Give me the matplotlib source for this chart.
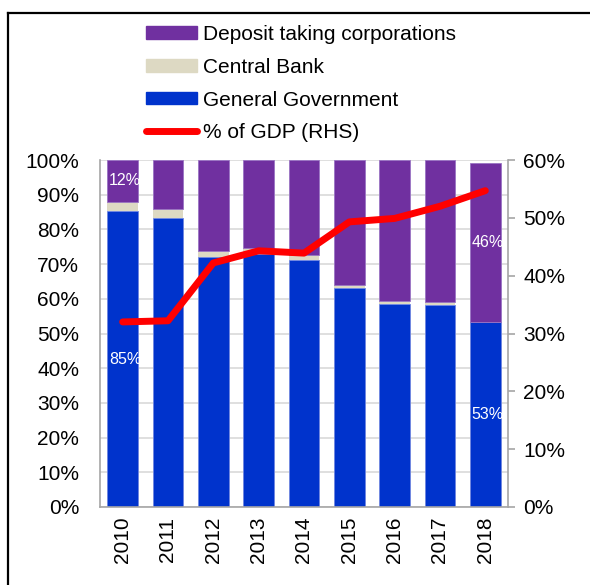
import numpy as np
import matplotlib
matplotlib.use("Agg")
import matplotlib.pyplot as plt
from matplotlib.patches import Patch
from matplotlib.lines import Line2D
from matplotlib.ticker import PercentFormatter

years = ["2010", "2011", "2012", "2013", "2014", "2015", "2016", "2017", "2018"]
general_gov = [85.3, 83.4, 72.0, 73.0, 71.3, 63.0, 58.4, 58.2, 53.2]
central_bank = [2.7, 2.4, 1.9, 1.5, 1.3, 1.0, 1.0, 0.9, 0.1]
deposit_corp = [12.0, 14.2, 26.1, 25.5, 27.4, 36.0, 40.6, 40.9, 45.9]
gdp_share = [32.0, 32.2, 42.2, 44.3, 43.9, 49.3, 49.9, 52.0, 54.7]

c_dep = "#7030A0"
c_cb = "#DDD9C3"
c_gg = "#0033CC"
c_line = "#FF0000"
grid_c = "#D9D9D9"
spine_c = "#A6A6A6"
fs = 15

plt.rcParams["font.family"] = ["Liberation Sans", "DejaVu Sans"]

fig = plt.figure(figsize=(5.9, 5.85), dpi=100)
ax = fig.add_axes([100 / 590, 1 - 507 / 585, 408 / 590, 347 / 585])

x = np.arange(len(years))
gg = np.array(general_gov)
cb = np.array(central_bank)
dep = np.array(deposit_corp)
w = 0.68
ax.bar(x, gg, w, color=c_gg, edgecolor="#6F86E0", linewidth=0.6, zorder=2)
ax.bar(x, cb, w, bottom=gg, color=c_cb, zorder=2)
ax.bar(x, dep, w, bottom=gg + cb, color=c_dep, edgecolor="#9A74C4", linewidth=0.6, zorder=2)

ax.set_xlim(-0.5, len(years) - 0.5)
ax.set_ylim(0, 100)
ax.set_yticks(np.arange(0, 101, 10))
ax.yaxis.set_major_formatter(PercentFormatter(decimals=0))
ax.set_xticks(x)
ax.set_xticklabels(years, rotation=90)
ax.grid(axis="y", color=grid_c, linewidth=1.2, zorder=0)
ax.set_axisbelow(True)
ax.tick_params(axis="y", length=0, labelsize=fs, pad=15)
ax.tick_params(axis="x", length=0, labelsize=fs, pad=7)
for s in ["top", "right"]:
    ax.spines[s].set_visible(False)
for s in ["left", "bottom"]:
    ax.spines[s].set_color(spine_c)
    ax.spines[s].set_linewidth(1.2)

# data labels on first and last bars
for i in [0, len(years) - 1]:
    ax.text(x[i] + 0.05, gg[i] / 2, "%d%%" % round(gg[i]), color="white",
            ha="center", va="center", fontsize=11.5, zorder=3)
    ax.text(x[i] + 0.05, gg[i] + cb[i] + dep[i] / 2, "%d%%" % round(dep[i]), color="white",
            ha="center", va="center", fontsize=11.5, zorder=3)

ax2 = ax.twinx()
ax2.plot(x, gdp_share, color=c_line, linewidth=5, solid_capstyle="round")
ax2.set_ylim(0, 60)
ax2.set_yticks(np.arange(0, 61, 10))
ax2.yaxis.set_major_formatter(PercentFormatter(decimals=0))
ax2.tick_params(axis="y", direction="out", length=5, color=spine_c, width=1.2,
                labelsize=fs, pad=6)
for s in ["top", "left", "bottom"]:
    ax2.spines[s].set_visible(False)
ax2.spines["right"].set_color(spine_c)
ax2.spines["right"].set_linewidth(1.2)

handles = [
    Patch(color=c_dep, label="Deposit taking corporations"),
    Patch(color=c_cb, label="Central Bank"),
    Patch(color=c_gg, label="General Government"),
    Line2D([0], [0], color=c_line, linewidth=5, solid_capstyle="round", label="% of GDP (RHS)"),
]
fig.legend(handles=handles, loc="upper left", bbox_to_anchor=(146 / 590, 1 - 25 / 585),
           frameon=False, fontsize=fs, handlelength=2.45, handleheight=0.55,
           handletextpad=0.3, labelspacing=0.66, borderpad=0, borderaxespad=0)

# outer frame (top and left edges)
fig.add_artist(Line2D([8 / 590, 8 / 590], [0, 1 - 13 / 585], color="black", linewidth=1.6,
                      transform=fig.transFigure))
fig.add_artist(Line2D([8 / 590, 1], [1 - 13 / 585, 1 - 13 / 585], color="black", linewidth=1.6,
                      transform=fig.transFigure))

fig.savefig("out.png", dpi=100)
